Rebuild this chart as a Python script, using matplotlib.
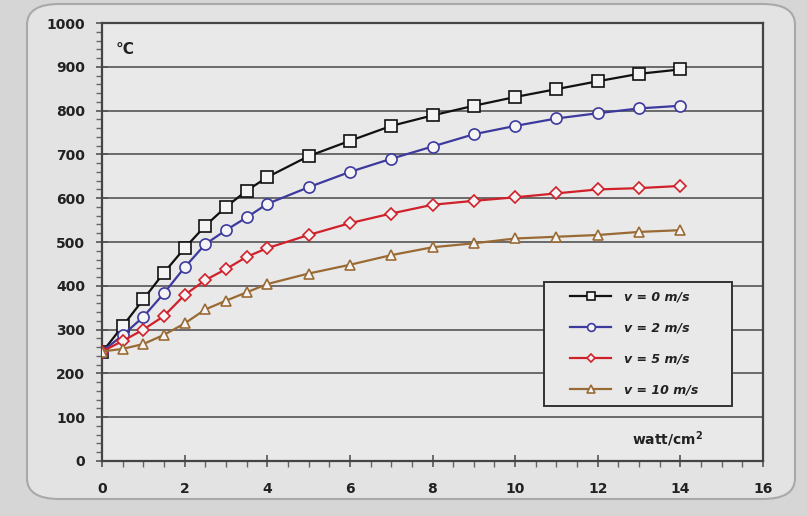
import matplotlib
matplotlib.use("Agg")
import matplotlib.pyplot as plt
from matplotlib.patches import FancyBboxPatch, Rectangle
from matplotlib.ticker import MultipleLocator

# datos
potencia = [0, 0.5, 1, 1.5, 2, 2.5, 3, 3.5, 4, 5, 6, 7, 8, 9, 10, 11, 12, 13, 14]
temp_v0 = [248, 308, 369, 430, 486, 537, 580, 617, 648, 696, 731, 765, 789, 811, 831, 849, 867, 884, 894]
temp_v2 = [250, 287, 329, 383, 442, 495, 527, 556, 587, 625, 660, 690, 718, 746, 765, 782, 794, 805, 811]
temp_v5 = [250, 274, 300, 331, 379, 413, 438, 466, 486, 516, 543, 565, 585, 594, 602, 611, 620, 623, 628]
temp_v10 = [250, 256, 267, 288, 314, 346, 366, 385, 404, 428, 448, 470, 488, 497, 508, 512, 516, 523, 527]
etiquetas = ["v = 0 m/s", "v = 2 m/s", "v = 5 m/s", "v = 10 m/s"]

plt.rcParams['font.family'] = ['DejaVu Sans']

fig = plt.figure(figsize=(8.07, 5.16), dpi=100)
fig.patch.set_facecolor('#d6d6d6')

# marco redondeado de fondo
marco = FancyBboxPatch((27 / 807, 17 / 516), 768 / 807, 495 / 516,
                       boxstyle="round,pad=0,rounding_size=0.04",
                       transform=fig.transFigure, facecolor='#e3e3e3',
                       edgecolor='#a9a9a9', linewidth=1.5, zorder=-10)
fig.patches.append(marco)

ax = fig.add_axes([102 / 807, 55 / 516, 661 / 807, 438 / 516])
ax.set_facecolor('#e9e9e9')

series = [
    (temp_v0, '#111111', 's', 8.5),
    (temp_v2, '#3d3a9e', 'o', 8),
    (temp_v5, '#d0212b', 'D', 6.5),
    (temp_v10, '#9a6a35', '^', 7.5),
]
for (valores, color, marca, tam), etiqueta in zip(series, etiquetas):
    ax.plot(potencia, valores, color=color, marker=marca, markersize=tam,
            markerfacecolor='#f4f4f4', markeredgecolor=color,
            markeredgewidth=1.2, linewidth=1.6, label=etiqueta, zorder=3)

ax.set_xlim(0, 16)
ax.set_ylim(0, 1000)
ax.xaxis.set_major_locator(MultipleLocator(2))
ax.xaxis.set_minor_locator(MultipleLocator(0.5))
ax.yaxis.set_major_locator(MultipleLocator(100))
ax.yaxis.set_minor_locator(MultipleLocator(20))

ax.yaxis.grid(True, which='major', color='#555555', linewidth=1.2)
ax.set_axisbelow(True)

for lado in ['left', 'bottom', 'top', 'right']:
    ax.spines[lado].set_color('#444444')
    ax.spines[lado].set_linewidth(1.6)

ax.tick_params(axis='both', which='major', direction='inout', length=8,
               width=1.2, color='#555555', labelsize=10)
ax.tick_params(axis='x', which='major', pad=11)
ax.tick_params(axis='y', which='major', pad=8)
ax.tick_params(axis='both', which='minor', direction='out', length=4,
               width=1, color='#666666')
for lbl in ax.get_xticklabels() + ax.get_yticklabels():
    lbl.set_fontweight('bold')
    lbl.set_color('#222222')

ax.text(0.02, 0.94, "°C", transform=ax.transAxes, fontsize=11,
        fontweight='bold', color='#222222', va='center')
ax.text(13.7, 50, "watt/cm$^{\\mathbf{2}}$", fontsize=10, fontweight='bold',
        color='#222222', ha='center', va='center')

# caja de la leyenda dibujada aparte
caja = Rectangle((0.669, 0.126), 0.284, 0.283, transform=ax.transAxes,
                 facecolor='#e9e9e9', edgecolor='#333333', linewidth=1.4,
                 zorder=4)
ax.add_patch(caja)

leyenda = ax.legend(loc='upper left', bbox_to_anchor=(0.708, 0.39),
                    frameon=False, markerscale=0.7,
                    prop={'weight': 'bold', 'style': 'italic', 'size': 9},
                    labelspacing=1.45, borderpad=0, handlelength=3.3,
                    handletextpad=1.0, borderaxespad=0)
leyenda.set_zorder(5)
for txt in leyenda.get_texts():
    txt.set_color('#222222')

plt.savefig("out.png", dpi=100, facecolor=fig.get_facecolor())
